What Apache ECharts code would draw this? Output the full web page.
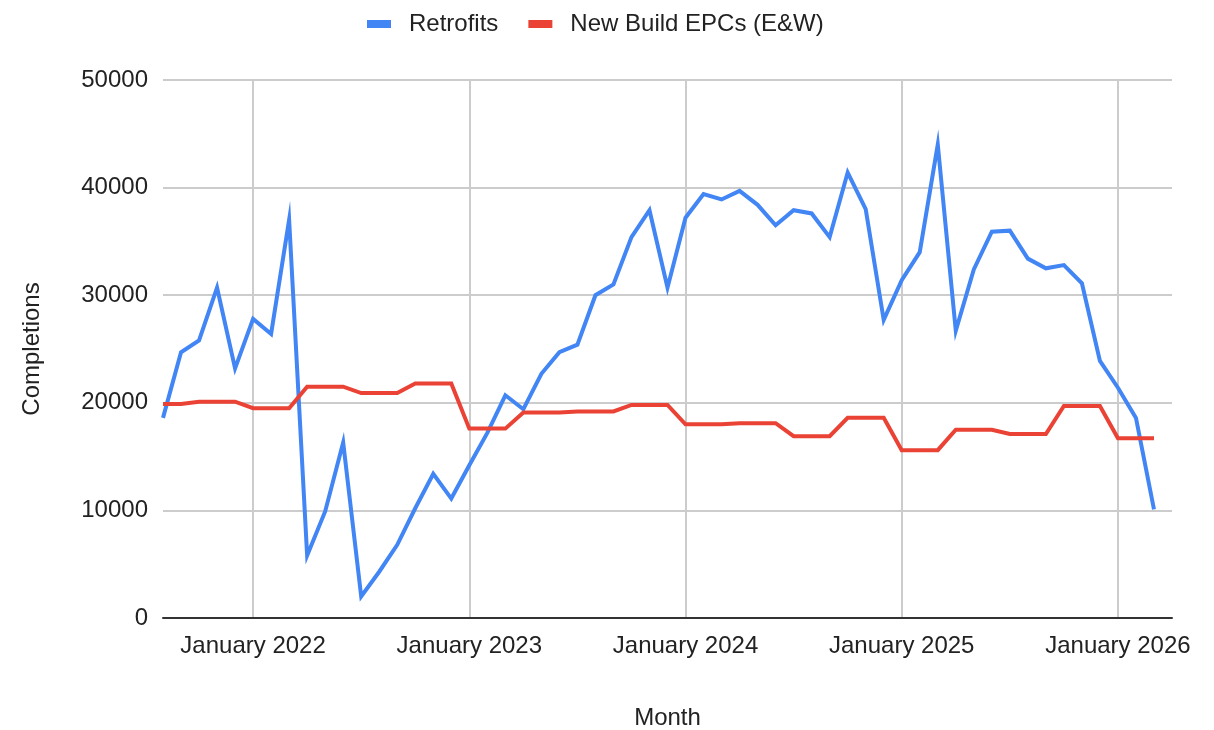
<!DOCTYPE html>
<html>
<head>
<meta charset="utf-8">
<title>Retrofits vs New Build EPCs</title>
<script src="https://cdn.jsdelivr.net/npm/echarts@6/dist/echarts.min.js"></script>
<style>
  html, body { margin: 0; padding: 0; background: #fff; }
  #main { width: 1214px; height: 730px; }
</style>
</head>
<body>
<div id="main"></div>
<script>
// months shown on the x axis (last one has no data, axis runs on to it)
const months = [
  '2021-08', '2021-09', '2021-10', '2021-11', '2021-12',
  '2022-01', '2022-02', '2022-03', '2022-04', '2022-05', '2022-06',
  '2022-07', '2022-08', '2022-09', '2022-10', '2022-11', '2022-12',
  '2023-01', '2023-02', '2023-03', '2023-04', '2023-05', '2023-06',
  '2023-07', '2023-08', '2023-09', '2023-10', '2023-11', '2023-12',
  '2024-01', '2024-02', '2024-03', '2024-04', '2024-05', '2024-06',
  '2024-07', '2024-08', '2024-09', '2024-10', '2024-11', '2024-12',
  '2025-01', '2025-02', '2025-03', '2025-04', '2025-05', '2025-06',
  '2025-07', '2025-08', '2025-09', '2025-10', '2025-11', '2025-12',
  '2026-01', '2026-02', '2026-03', '2026-04'
];

const retrofits = [
  18600, 24700, 25800, 30700, 23200,
  27800, 26400, 37000, 5800, 9900, 16300, 2000, 4300, 6800, 10200, 13400, 11100,
  14200, 17200, 20700, 19400, 22700, 24700, 25400, 30000, 31000, 35400, 37900, 30700,
  37200, 39400, 38900, 39700, 38400, 36500, 37900, 37600, 35400, 41400, 38000, 27700,
  31400, 34000, 44000, 26700, 32400, 35900, 36000, 33400, 32500, 32800, 31100, 23900,
  21400, 18600, 10100
];

const newBuild = [
  19900, 19900, 20100, 20100, 20100,
  19500, 19500, 19500, 21500, 21500, 21500, 20900, 20900, 20900, 21800, 21800, 21800,
  17600, 17600, 17600, 19100, 19100, 19100, 19200, 19200, 19200, 19800, 19800, 19800,
  18000, 18000, 18000, 18100, 18100, 18100, 16900, 16900, 16900, 18600, 18600, 18600,
  15600, 15600, 15600, 17500, 17500, 17500, 17100, 17100, 17100, 19700, 19700, 19700,
  16700, 16700, 16700
];

const monthNames = ['January', 'February', 'March', 'April', 'May', 'June',
  'July', 'August', 'September', 'October', 'November', 'December'];

const font = '"Liberation Sans", Arial, sans-serif';
const fs = 24;
const isJanuary = (idx, val) => val.slice(5) === '01';

const chart = echarts.init(document.getElementById('main'));

chart.setOption({
  animation: false,
  textStyle: { fontFamily: font },
  legend: {
    top: 7,
    left: 362,
    itemWidth: 24,
    itemHeight: 8,
    itemGap: 30,
    icon: 'rect',
    textStyle: { fontSize: fs, fontFamily: font, color: '#222', padding: [0, 0, 0, 13] },
    data: ['Retrofits', 'New Build EPCs (E&W)']
  },
  grid: {
    left: 163,
    right: 42,
    top: 80,
    bottom: 112,
    outerBoundsMode: 'none'
  },
  xAxis: {
    type: 'category',
    data: months,
    boundaryGap: false,
    name: 'Month',
    nameLocation: 'middle',
    nameGap: 88,
    nameTextStyle: { fontSize: fs, fontFamily: font, color: '#222' },
    axisLine: { lineStyle: { color: '#333', width: 2 } },
    axisTick: { show: false },
    axisLabel: {
      interval: isJanuary,
      margin: 16,
      fontSize: fs,
      fontFamily: font,
      color: '#222',
      formatter: v => monthNames[+v.slice(5) - 1] + ' ' + v.slice(0, 4)
    },
    splitLine: {
      show: true,
      interval: isJanuary,
      lineStyle: { color: '#cccccc', width: 2 }
    }
  },
  yAxis: {
    type: 'value',
    min: 0,
    max: 50000,
    interval: 10000,
    name: 'Completions',
    nameLocation: 'middle',
    nameGap: 119,
    nameTextStyle: { fontSize: fs, fontFamily: font, color: '#222' },
    axisLine: { show: false },
    axisTick: { show: false },
    axisLabel: {
      fontSize: fs,
      fontFamily: font,
      color: '#222',
      margin: 15,
      formatter: v => String(v)
    },
    splitLine: { lineStyle: { color: '#cccccc', width: 2 } }
  },
  series: [
    {
      name: 'Retrofits',
      type: 'line',
      data: retrofits,
      showSymbol: false,
      color: '#4285F4',
      lineStyle: { width: 4, join: 'miter' }
    },
    {
      name: 'New Build EPCs (E&W)',
      type: 'line',
      data: newBuild,
      showSymbol: false,
      color: '#EA4335',
      lineStyle: { width: 4, join: 'miter' }
    }
  ]
});
</script>
</body>
</html>
